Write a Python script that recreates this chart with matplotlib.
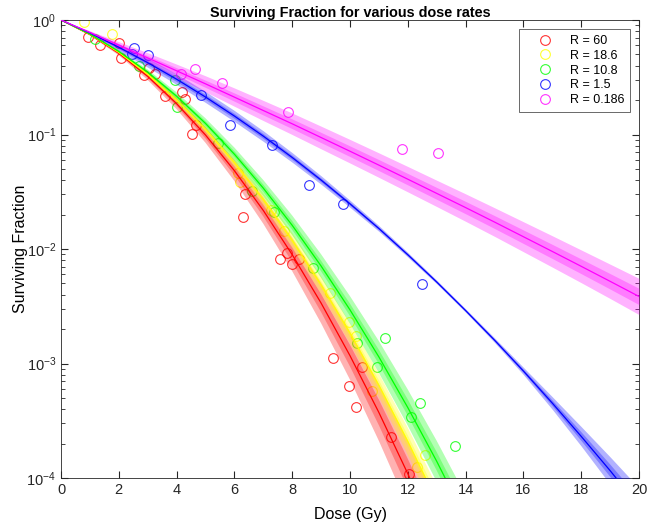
import matplotlib
matplotlib.use('Agg')
import matplotlib.pyplot as plt
import numpy as np

plt.rcParams['font.family'] = ['Liberation Sans', 'DejaVu Sans']
plt.rcParams['mathtext.fontset'] = 'custom'
plt.rcParams['mathtext.rm'] = 'Liberation Sans'
plt.rcParams['mathtext.it'] = 'Liberation Sans:italic'

labels = ['R = 60', 'R = 18.6', 'R = 10.8', 'R = 1.5', 'R = 0.186']
colors = ['#ff0000', '#ffff00', '#00ff00', '#0000ff', '#ff00ff']

# fitted curves at whole-Gy doses
red_fit = [1, 0.746, 0.512, 0.322, 0.186, 0.099, 0.0483, 0.0217, 0.00892, 0.00337,
           0.00117, 3.73e-4, 1.09e-4, 2.94e-5, 7.3e-6]
yellow_fit = [1, 0.750, 0.521, 0.336, 0.200, 0.111, 0.0568, 0.0270, 0.0119, 0.00485,
              0.00184, 6.44e-4, 2.09e-4, 6.3e-5, 1.76e-5]
green_fit = [1, 0.753, 0.531, 0.350, 0.216, 0.125, 0.0673, 0.0340, 0.0161, 0.0071,
             0.00294, 0.00114, 4.12e-4, 1.40e-4, 4.42e-5, 1.31e-5]
blue_fit = [1, 0.770, 0.578, 0.424, 0.304, 0.2125, 0.145, 0.0968, 0.0630, 0.0400,
            0.0248, 0.0151, 0.00891, 0.00515, 0.0029, 0.0016, 8.6e-4, 4.51e-4,
            2.31e-4, 1.16e-4, 5.66e-5]
magenta_fit = [1, 0.778, 0.603, 0.4665, 0.360, 0.277, 0.212, 0.162, 0.124, 0.0941,
               0.0714, 0.054, 0.0407, 0.0306, 0.023, 0.0172, 0.0128, 0.00952,
               0.00706, 0.00522, 0.00385]

# half-width of the outer confidence band, in decades
red_band = [0, 0.008, 0.018, 0.032, 0.048, 0.068, 0.09, 0.116, 0.144, 0.176, 0.21,
            0.248, 0.288, 0.332, 0.378]
yellow_band = [0, 0.005, 0.012, 0.019, 0.026, 0.035, 0.044, 0.055, 0.066, 0.077, 0.09,
               0.103, 0.118, 0.133, 0.148]
green_band = [0, 0.007, 0.014, 0.023, 0.034, 0.045, 0.058, 0.071, 0.086, 0.103, 0.12,
              0.139, 0.158, 0.179, 0.202, 0.225]
blue_band = [0, 0.015, 0.03, 0.04, 0.046, 0.048, 0.048, 0.046, 0.042, 0.037, 0.031,
             0.025, 0.02, 0.016, 0.015, 0.02, 0.032, 0.055, 0.085, 0.12, 0.16]
magenta_band = [0, 0.015, 0.03, 0.045, 0.058, 0.07, 0.08, 0.088, 0.094, 0.099, 0.103,
                0.107, 0.111, 0.115, 0.12, 0.125, 0.131, 0.137, 0.143, 0.15, 0.158]

# measured points
red_dose = [0.95, 1.35, 2.02, 2.08, 2.88, 3.06, 3.25, 3.61, 4.19, 4.28, 4.52, 4.66, 6.29,
            6.37, 7.58, 7.81, 7.98, 8.25, 9.4, 9.97, 10.21, 10.43, 11.41, 12.05]
red_sf = [0.706, 0.61, 0.63, 0.47, 0.33, 0.38, 0.336, 0.218, 0.237, 0.206, 0.102, 0.121,
          0.0189, 0.030, 0.0082, 0.0093, 0.0074, 0.0082, 0.00111, 6.4e-4, 4.2e-4, 9.27e-4,
          2.3e-4, 1.08e-4]
yellow_dose = [0.81, 1.78, 6.11, 6.19, 7.27, 7.73, 9.31, 9.97, 10.21, 10.75, 12.31, 12.61]
yellow_sf = [0.97, 0.755, 0.0458, 0.0382, 0.0219, 0.01436, 0.0041, 0.00232, 0.00175,
             5.7e-4, 1.26e-4, 1.6e-4]
green_dose = [1.18, 2.70, 3.93, 4.0, 5.43, 6.62, 7.37, 8.71, 10.23, 10.92, 11.22, 12.11,
              12.42, 13.63]
green_sf = [0.68, 0.40, 0.297, 0.175, 0.084, 0.0323, 0.0209, 0.00678, 0.0015, 9.4e-4,
            0.00166, 3.43e-4, 4.5e-4, 1.9e-4]
blue_dose = [2.45, 2.52, 3.02, 4.83, 5.85, 7.29, 8.59, 9.75, 12.5]
blue_sf = [0.508, 0.566, 0.494, 0.221, 0.121, 0.081, 0.0362, 0.0247, 0.00492]
magenta_dose = [4.14, 4.64, 5.56, 7.87, 11.79, 13.03]
magenta_sf = [0.336, 0.37, 0.28, 0.156, 0.0743, 0.0693]

fits = [red_fit, yellow_fit, green_fit, blue_fit, magenta_fit]
bands = [red_band, yellow_band, green_band, blue_band, magenta_band]
doses = [red_dose, yellow_dose, green_dose, blue_dose, magenta_dose]
sfs = [red_sf, yellow_sf, green_sf, blue_sf, magenta_sf]

fig = plt.figure(figsize=(6.48, 5.25), dpi=100)
ax = fig.add_axes([61 / 648, 1 - 478 / 525, 578 / 648, 458 / 525])
ax.set_yscale('log')

for i in range(5):
    ax.plot(doses[i], sfs[i], 'o', mfc='none', mec=colors[i], ms=7, mew=0.8,
            alpha=0.8, label=labels[i], zorder=2)

for i in range(5):
    d = np.arange(len(fits[i]))
    f = np.array(fits[i])
    w = np.array(bands[i])
    ax.fill_between(d, f * 10 ** (-w), f * 10 ** w, color=colors[i], alpha=0.3,
                    lw=0, zorder=3)
    ax.fill_between(d, f * 10 ** (-0.45 * w), f * 10 ** (0.45 * w), color=colors[i],
                    alpha=0.3, lw=0, zorder=3)
    ax.plot(d, f, color=colors[i], lw=0.9, zorder=4)

ax.set_xlim(0, 20)
ax.set_ylim(1e-4, 1)
ax.set_xticks(range(0, 21, 2))
ax.tick_params(which='both', direction='in', top=True, right=True, colors='#262626',
               labelsize=10.5)
ax.tick_params(which='major', length=5)
ax.tick_params(which='minor', length=3)
for s in ax.spines.values():
    s.set_color('#262626')
    s.set_linewidth(0.6)

ax.set_xlabel('Dose (Gy)', fontsize=11.5, labelpad=7)
ax.set_ylabel('Surviving Fraction', fontsize=11.5, labelpad=-1)
ax.set_title('Surviving Fraction for various dose rates', fontsize=10.4,
             fontweight='bold', pad=1.5)

leg = ax.legend(loc='upper right', fontsize=9, fancybox=False, edgecolor='#262626',
                handlelength=3.2, handletextpad=0.4, borderaxespad=0.75,
                labelspacing=0.22, borderpad=0.45)
leg.get_frame().set_linewidth(0.6)

fig.savefig('out.png', dpi=100)
